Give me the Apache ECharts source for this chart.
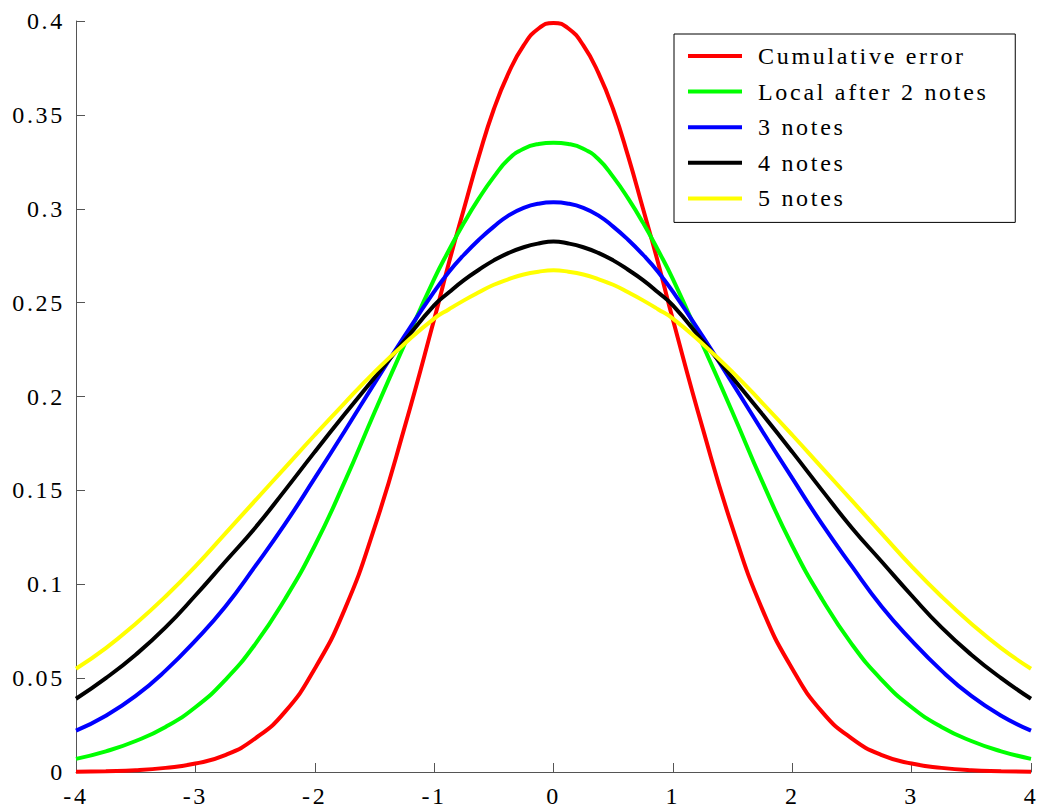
<!DOCTYPE html>
<html>
<head>
<meta charset="utf-8">
<script src="https://cdn.jsdelivr.net/npm/echarts@6/dist/echarts.min.js"></script>
<style>
  html, body { margin: 0; padding: 0; background: #fff; }
  #chart { width: 1041px; height: 809px; }
  /* MATLAB export spreads letters out a little */
  #chart svg text { letter-spacing: 2.7px; font-family: 'Liberation Serif', serif; }
</style>
</head>
<body>
<div id="chart"></div>
<script>
// x positions the curves were read at (denser around the peak)
const xs = [-4, -3.75, -3.5, -3.25, -3, -2.75, -2.5, -2.25, -2, -1.75, -1.5, -1.25,
  -1, -0.875, -0.75, -0.625, -0.5, -0.375, -0.25, -0.125, 0, 0.125, 0.25, 0.375, 0.5, 0.625, 0.75, 0.875, 1,
  1.25, 1.5, 1.75, 2, 2.25, 2.5, 2.75, 3, 3.25, 3.5, 3.75, 4]

const cumulative = [0.0001, 0.0004, 0.0009, 0.0022, 0.0045, 0.009, 0.0178, 0.032, 0.055, 0.0865, 0.130, 0.183,
  0.241, 0.2715, 0.300, 0.328, 0.353, 0.3725, 0.387, 0.396, 0.399, 0.396, 0.387, 0.3725, 0.353, 0.328, 0.300, 0.2715, 0.241,
  0.183, 0.130, 0.0865, 0.055, 0.032, 0.0178, 0.009, 0.0045, 0.0022, 0.0009, 0.0004, 0.0001]
const twoNotes = [0.007, 0.011, 0.0165, 0.024, 0.0345, 0.049, 0.068, 0.092, 0.1205, 0.1545, 0.1915, 0.2275,
  0.2625, 0.278, 0.2925, 0.3055, 0.317, 0.3265, 0.332, 0.3345, 0.3352, 0.3345, 0.332, 0.3265, 0.317, 0.3055, 0.2925, 0.278, 0.2625,
  0.2275, 0.1915, 0.1545, 0.1205, 0.092, 0.068, 0.049, 0.0345, 0.024, 0.0165, 0.011, 0.007]
const threeNotes = [0.022, 0.030, 0.0405, 0.054, 0.070, 0.088, 0.1095, 0.132, 0.1565, 0.1815, 0.207, 0.232,
  0.2558, 0.2665, 0.2755, 0.2835, 0.2905, 0.2965, 0.3005, 0.3027, 0.3034, 0.3027, 0.3005, 0.2965, 0.2905, 0.2835, 0.2755, 0.2665, 0.2558,
  0.232, 0.207, 0.1815, 0.1565, 0.132, 0.1095, 0.088, 0.070, 0.054, 0.0405, 0.030, 0.022]
const fourNotes = [0.039, 0.050, 0.0625, 0.077, 0.094, 0.112, 0.130, 0.150, 0.1705, 0.1905, 0.210, 0.2295,
  0.2485, 0.2555, 0.262, 0.2675, 0.2725, 0.2765, 0.2795, 0.2815, 0.2826, 0.2815, 0.2795, 0.2765, 0.2725, 0.2675, 0.262, 0.2555, 0.2485,
  0.2295, 0.210, 0.1905, 0.1705, 0.150, 0.130, 0.112, 0.094, 0.077, 0.0625, 0.050, 0.039]
const fiveNotes = [0.055, 0.066, 0.079, 0.0935, 0.1095, 0.127, 0.1445, 0.162, 0.1795, 0.1965, 0.213, 0.228,
  0.2415, 0.2465, 0.2512, 0.2555, 0.2595, 0.2625, 0.265, 0.2665, 0.2672, 0.2665, 0.265, 0.2625, 0.2595, 0.2555, 0.2512, 0.2465, 0.2415,
  0.228, 0.213, 0.1965, 0.1795, 0.162, 0.1445, 0.127, 0.1095, 0.0935, 0.079, 0.066, 0.055]

const seriesNames = ['Cumulative error', 'Local after 2 notes', '3 notes', '4 notes', '5 notes']
const seriesColors = ['#ff0000', '#00ff00', '#0000ff', '#000000', '#ffff00']
const seriesValues = [cumulative, twoNotes, threeNotes, fourNotes, fiveNotes]

const font = 'Liberation Serif'
const axisColor = '#555555'

const chart = echarts.init(document.getElementById('chart'), null, { renderer: 'svg' })

chart.setOption({
  animation: false,
  backgroundColor: '#ffffff',
  grid: { left: 76, right: 10, top: 21, bottom: 37 },
  legend: {
    orient: 'vertical',
    left: 674,
    top: 34,
    padding: [10, 78, 12, 14],
    icon: 'rect',
    itemWidth: 54,
    itemHeight: 4,
    itemGap: 11.6,
    borderColor: '#000',
    borderWidth: 1,
    borderRadius: 0,
    textStyle: { fontFamily: font, fontSize: 24, lineHeight: 24, color: '#000', padding: [0, 0, 0, 11] },
    data: seriesNames,
  },
  xAxis: {
    type: 'value',
    min: -4,
    max: 4,
    interval: 1,
    axisLine: { show: true, onZero: false, lineStyle: { color: axisColor, width: 1 } },
    axisTick: { show: true, inside: true, length: 9, lineStyle: { color: axisColor } },
    axisLabel: { fontFamily: font, fontSize: 24, color: '#000', margin: 12 },
    splitLine: { show: false },
  },
  yAxis: {
    type: 'value',
    min: 0,
    max: 0.4,
    interval: 0.05,
    axisLine: { show: true, onZero: false, lineStyle: { color: axisColor, width: 1 } },
    axisTick: { show: true, inside: true, length: 9, lineStyle: { color: axisColor } },
    axisLabel: { fontFamily: font, fontSize: 24, color: '#000', margin: 11 },
    splitLine: { show: false },
  },
  series: seriesNames.map((name, i) => ({
    name,
    type: 'line',
    smooth: true,
    symbol: 'none',
    color: seriesColors[i],
    lineStyle: { width: 4, color: seriesColors[i] },
    data: xs.map((x, j) => [x, seriesValues[i][j]]),
  })),
})
</script>
</body>
</html>
